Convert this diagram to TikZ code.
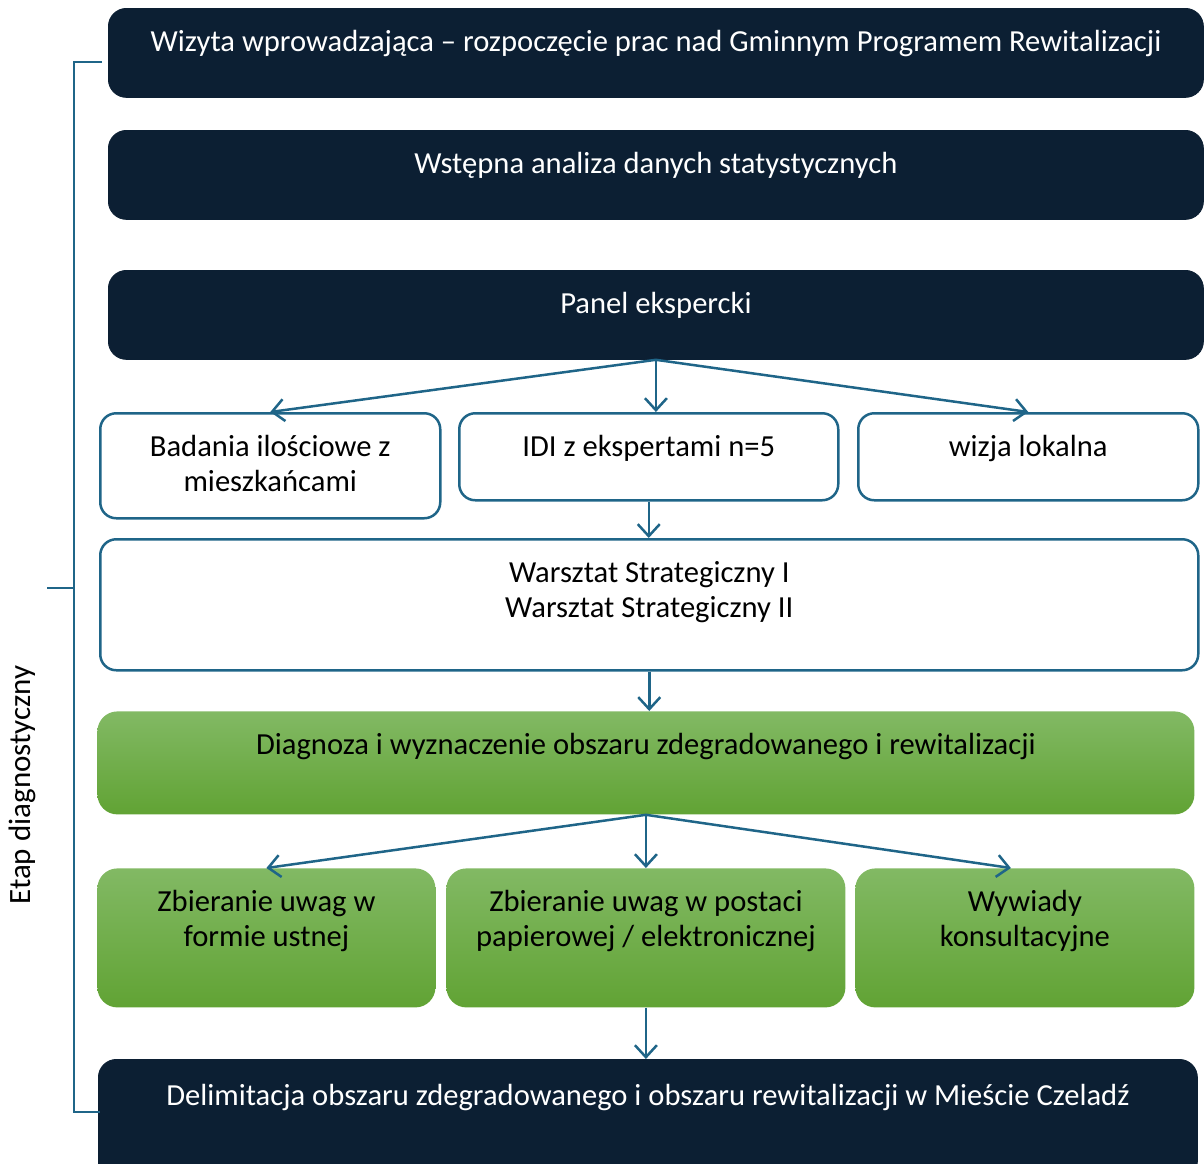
\documentclass[tikz,border=0pt]{standalone}
\usepackage{fontspec}
\setmainfont{Carlito}
\usetikzlibrary{positioning,arrows.meta,calc}
\definecolor{navy}{HTML}{0C1F33}
\definecolor{lineblue}{HTML}{1F6588}
\definecolor{greentop}{HTML}{82B964}
\definecolor{greenbot}{HTML}{61A334}
\tikzset{box/.style={anchor=north west, inner xsep=4pt, inner ysep=0pt, text height=21.5pt, align=center,
    font=\fontsize{15.3}{17.5}\selectfont},
% text sits near the top of each box, so the depth sets the box height
% two-line boxes: the baseline is the last line, hence the taller text height
twolines/.style={text height=39pt},
darkbox/.style={box, fill=navy, draw=navy, text=white, rounded corners=9pt},
whitebox/.style={box, draw=lineblue, line width=1.25pt, fill=white, rounded corners=8pt},
greenbox/.style={box, top color=greentop, bottom color=greenbot, rounded corners=10pt},
line/.style={lineblue, line width=1.25pt, -{Straight Barb[length=6pt,width=11pt]}},
bracket/.style={lineblue, line width=0.75pt}
}

\begin{document}
\begin{tikzpicture}[x=0.5pt,y=-0.5pt]
    \useasboundingbox (0,0) rectangle (1204,1163);
    \node[darkbox, minimum width=547.5pt, text depth=23pt] (wizyta) at (108,8) {Wizyta wprowadzająca – rozpoczęcie prac nad Gminnym Programem Rewitalizacji};
    \node[darkbox, minimum width=547.5pt, text depth=23pt] (wstepna) at (108,130) {Wstępna analiza danych statystycznych};
    \node[darkbox, minimum width=547.5pt, text depth=23pt] (panel) at (108,270) {Panel ekspercki};
    \node[whitebox, twolines, minimum width=170pt, text depth=13.5pt] (badania) at (99,412) {Badania ilościowe z\\mieszkańcami};
    \node[whitebox, minimum width=189.5pt, text depth=22pt] (idi) at (458,412) {IDI z ekspertami n=5};
    \node[whitebox, minimum width=170pt, text depth=22pt] (wizja) at (857,412) {wizja lokalna};
    \node[whitebox, twolines, minimum width=549pt, text depth=26.5pt] (warsztat) at (99,538) {Warsztat Strategiczny I\\Warsztat Strategiczny II};
    \node[greenbox, minimum width=548.5pt, text depth=30pt] (diagnoza) at (97,711) {Diagnoza i wyznaczenie obszaru zdegradowanego i rewitalizacji};
    \node[greenbox, twolines, minimum width=169pt, text depth=30.5pt] (ustne) at (97,868) {Zbieranie uwag w\\formie ustnej};
    \node[greenbox, twolines, minimum width=199.5pt, text depth=30.5pt] (papier) at (446,868) {Zbieranie uwag w postaci\\papierowej / elektronicznej};
    \node[greenbox, twolines, minimum width=169.5pt, text depth=30.5pt] (wywiady) at (855,868) {Wywiady\\konsultacyjne};
    \node[darkbox, minimum width=549.5pt, text height=23pt, text depth=37pt] (delim) at (98,1059) {Delimitacja obszaru zdegradowanego i obszaru rewitalizacji w Mieście Czeladź};

    \draw[line] (panel.south) -- (badania.north);
    \draw[line] (panel.south) -- (panel.south |- idi.north);
    \draw[line] (panel.south) -- (wizja.north);
    \draw[line] (idi.south) -- (idi.south |- warsztat.north);
    \draw[line] (warsztat.south) -- (warsztat.south |- diagnoza.north);
    \draw[line] (diagnoza.south) -- (ustne.north);
    \draw[line] (diagnoza.south) -- (papier.north);
    \draw[line] (diagnoza.south) -- ([xshift=-7pt]wywiady.north);
    \draw[line] (papier.south) -- (papier.south |- delim.north);

    % bracket on the left
    \coordinate (brTopEnd) at (102,62);
    \coordinate (brBotEnd) at (100,1112);
    \coordinate (brSpine) at (74,588);
    \coordinate (brTick) at (47,588);
    \draw[bracket] (brTopEnd) -- (brTopEnd -| brSpine) -- (brBotEnd -| brSpine) -- (brBotEnd);
    \draw[bracket] (brTick) -- (brSpine);
    \node[rotate=90, font=\fontsize{15.5}{17}\selectfont] (etap) at (22,785) {Etap diagnostyczny};
  \end{tikzpicture}
\end{document}
